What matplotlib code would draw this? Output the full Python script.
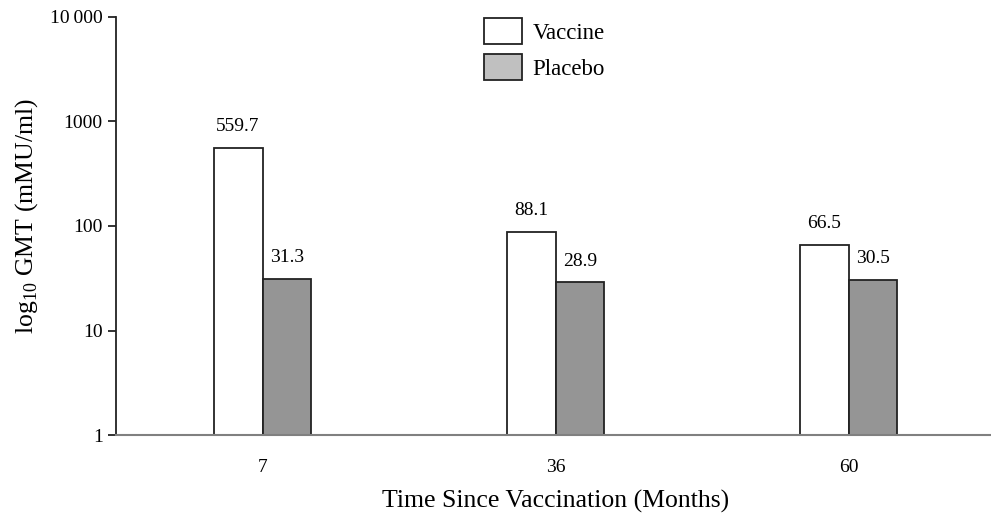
import numpy as np
import matplotlib
matplotlib.use("Agg")
from matplotlib import pyplot as plt
from matplotlib.patches import Patch

plt.rcParams['font.family'] = ['Liberation Serif', 'DejaVu Serif']
plt.rcParams['mathtext.fontset'] = 'custom'
plt.rcParams['mathtext.rm'] = 'Liberation Serif'

# GMT per visit
months = ["7", "36", "60"]
vaccine = [559.7, 88.1, 66.5]
placebo = [31.3, 28.9, 30.5]

fig = plt.figure(figsize=(9.91, 5.23), dpi=100)
ax = fig.add_axes([116 / 991, 88 / 523, 879 / 991, 418 / 523])
ax.set_yscale("log")

x = np.arange(len(months))
w = 0.167
ax.bar(x - w / 2, vaccine, width=w, color="white",
       edgecolor="#222222", linewidth=1.3)
ax.bar(x + w / 2, placebo, width=w, color="#959595",
       edgecolor="#222222", linewidth=1.3)

# value labels above bars
for xs, vals in ((x - w / 2, vaccine), (x + w / 2, placebo)):
    for xi, v in zip(xs, vals):
        ax.annotate(f"{v}", (xi, v), xytext=(0, 9), textcoords="offset points",
                    ha="center", va="bottom", fontsize=14)

ax.set_ylim(1, 10000)
ax.set_xlim(-0.5, 2.5)
ax.set_yticks([1, 10, 100, 1000, 10000])
ax.set_yticklabels(["1", "10", "100", "1000", "10\u2009000"])
ax.minorticks_off()
ax.set_xticks(x)
ax.set_xticklabels(months)
ax.tick_params(axis="x", length=0, pad=17, labelsize=14)
ax.tick_params(axis="y", length=6, width=1.3, labelsize=14, color="#222222")

for s in ("top", "right"):
    ax.spines[s].set_visible(False)
ax.spines["left"].set_linewidth(1.3)
ax.spines["left"].set_color("#222222")
ax.spines["bottom"].set_color("#808080")
ax.spines["bottom"].set_linewidth(1.5)

ax.set_xlabel("Time Since Vaccination (Months)", fontsize=18.5, labelpad=10)
ax.set_ylabel(r"log$_{\mathrm{10}}$ GMT (mMU/ml)", fontsize=18.5, va="center")
ax.yaxis.set_label_coords(-0.102, 0.524)

handles = [Patch(facecolor="white", edgecolor="#222222", linewidth=1.3),
           Patch(facecolor="#c0c0c0", edgecolor="#222222", linewidth=1.3)]
ax.legend(handles, ["Vaccine", "Placebo"], loc="upper left",
          bbox_to_anchor=(0.406, 1.026), frameon=False, fontsize=16.5, borderpad=0,
          handlelength=1.66, handleheight=1.42, labelspacing=0.4, handletextpad=0.45)

fig.savefig("out.png", dpi=100)
